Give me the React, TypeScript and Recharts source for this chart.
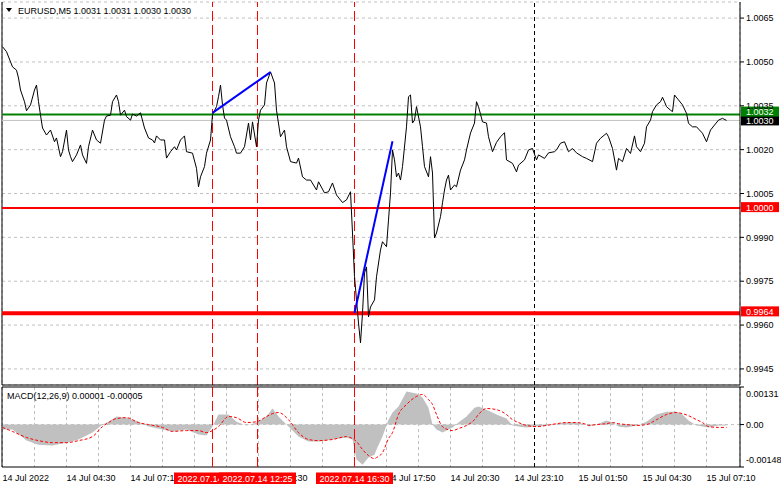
import React from 'react';
import {
  LineChart,
  Line,
  ComposedChart,
  Area,
  XAxis,
  YAxis,
  CartesianGrid,
  ReferenceLine,
} from 'recharts';

const FONT = "'Liberation Sans', Arial, sans-serif";

// M5 bar number (bar 0 = 14 Jul 01:50) and close price
const priceBars = [
  0, 2, 5, 7, 8, 9, 11, 12, 14, 16,
  17, 18, 19, 20, 22, 24, 26, 27, 29, 30,
  32, 33, 34, 35, 37, 39, 40, 42, 43, 45,
  47, 49, 51, 52, 54, 55, 57, 58, 59, 61,
  62, 64, 65, 67, 69, 71, 73, 75, 76, 77,
  79, 81, 82, 84, 86, 87, 89, 91, 92, 95,
  97, 98, 99, 101, 102, 104, 105, 107, 108, 109,
  110, 111, 112, 114, 116, 117, 119, 121, 123, 124,
  125, 127, 128, 129, 131, 132, 134, 136, 137, 139,
  141, 142, 144, 147, 148, 150, 152, 154, 157, 158,
  161, 163, 165, 167, 170, 172, 174, 175, 176, 177,
  178, 179, 180, 181, 182, 183, 184, 186, 187, 189,
  190, 192, 193, 194, 195, 196, 197, 198, 199, 200,
  202, 203, 204, 205, 206, 207, 209, 210, 211, 213,
  214, 215, 216, 217, 219, 220, 221, 222, 223, 224,
  226, 227, 229, 231, 232, 234, 236, 237, 238, 240,
  242, 243, 245, 247, 249, 251, 252, 255, 257, 258,
  261, 263, 265, 267, 268, 271, 273, 276, 277, 279,
  281, 283, 285, 287, 290, 292, 295, 297, 299, 302,
  303, 305, 307, 308, 310, 312, 314, 316, 317, 319,
  321, 322, 324, 325, 327, 329, 330, 331, 332, 334,
  335, 336, 338, 340, 342, 343, 345, 347, 350, 352,
  354, 356, 358, 360, 362,
];

const priceValues = [
  1.00552, 1.00535, 1.00483, 1.00472, 1.00445, 1.00404, 1.00364, 1.00333, 1.00353, 1.00404,
  1.00421, 1.00364, 1.00318, 1.00274, 1.0025, 1.00267, 1.00227, 1.0024, 1.00176, 1.00193,
  1.00267, 1.00199, 1.00176, 1.00159, 1.00182, 1.00216, 1.00182, 1.00153, 1.0021, 1.00267,
  1.00233, 1.00222, 1.00301, 1.00315, 1.00318, 1.00364, 1.00387, 1.00364, 1.00318, 1.00335,
  1.00313, 1.00301, 1.00322, 1.00315, 1.00326, 1.00274, 1.0024, 1.00233, 1.00223, 1.00247,
  1.00233, 1.00233, 1.00171, 1.00193, 1.0021, 1.00199, 1.00233, 1.00247, 1.00193, 1.00188,
  1.00136, 1.00073, 1.00107, 1.00142, 1.00188, 1.00233, 1.0032, 1.00347, 1.00381, 1.00421,
  1.00353, 1.00308, 1.00301, 1.00244, 1.0021, 1.00188, 1.00188, 1.0021, 1.00291, 1.00233,
  1.00295, 1.0021, 1.00301, 1.00335, 1.00353, 1.00428, 1.00466, 1.00428, 1.00335, 1.00244,
  1.00267, 1.0021, 1.00159, 1.00154, 1.00171, 1.00107, 1.00096, 1.00096, 1.00062, 1.0009,
  1.00052, 1.00056, 1.00086, 1.00045, 1.00019, 1.00028, 1.00056, 0.99915, 0.99766, 0.99686,
  0.99607, 0.99539, 0.99641, 0.99778, 0.99799, 0.99628, 0.99662, 0.99686, 0.99765, 0.99857,
  0.99885, 0.99868, 0.99959, 1.00052, 1.00199, 1.00165, 1.00107, 1.0012, 1.00096, 1.00142,
  1.00278, 1.00381, 1.00387, 1.00291, 1.00301, 1.00347, 1.00278, 1.0021, 1.00142, 1.00107,
  1.00176, 1.0012, 0.99898, 0.99915, 0.99971, 1.00018, 1.00062, 1.00096, 1.00113, 1.00062,
  1.00079, 1.00073, 1.0013, 1.00165, 1.00199, 1.00257, 1.00291, 1.00364, 1.00347, 1.00295,
  1.00291, 1.00244, 1.00193, 1.00225, 1.00244, 1.00258, 1.00165, 1.00153, 1.00124, 1.00147,
  1.00165, 1.00199, 1.00204, 1.00165, 1.00182, 1.0017, 1.00189, 1.00193, 1.00199, 1.00222,
  1.00227, 1.00193, 1.00204, 1.00189, 1.00176, 1.0017, 1.00159, 1.00222, 1.00239, 1.00256,
  1.00244, 1.00204, 1.0013, 1.0017, 1.00159, 1.00204, 1.00187, 1.00247, 1.0021, 1.00193,
  1.00222, 1.00278, 1.00301, 1.0033, 1.00353, 1.00364, 1.00379, 1.00364, 1.00347, 1.00335,
  1.0033, 1.00387, 1.0037, 1.00353, 1.00324, 1.0029, 1.00278, 1.00278, 1.00256, 1.00227,
  1.00267, 1.00284, 1.00301, 1.00307, 1.003,
];

// MACD(12,26,9): histogram (main) and dotted signal
const macdBars = [
  0, 5, 12, 18, 25, 32, 38, 45, 50, 53,
  57, 62, 68, 73, 80, 85, 92, 98, 102, 105,
  108, 113, 117, 122, 127, 132, 135, 138, 143, 148,
  153, 158, 165, 172, 175, 177, 180, 183, 186, 187,
  190, 193, 195, 198, 202, 207, 210, 213, 215, 217,
  220, 225, 228, 232, 236, 238, 242, 247, 252, 255,
  258, 262, 267, 272, 277, 282, 287, 292, 293, 297,
  302, 305, 308, 312, 317, 322, 327, 332, 337, 340,
  343, 347, 350, 353, 358, 362,
];

const macdHist = [
  -0.00017, -0.00017, -0.00056, -0.0007, -0.00073, -0.00063, -0.00052, -0.00028, 0, 0.0001,
  0.00028, 0.00024, 0.0001, -0.00007, -0.00017, -0.00024, -0.00017, -0.00035, -0.00038, -0.00007,
  0.00035, 0.00035, 0.0001, -0.00003, 0.00007, 0.00028, 0.00056, 0.00028, -0.00007, -0.00042,
  -0.00059, -0.00059, -0.00052, -0.00045, -0.00052, -0.00122, -0.0014, -0.00115, -0.00105, -0.00087,
  -0.00042, 0.00017, 0.00042, 0.00063, 0.00115, 0.00108, 0.00094, 0.00059, 0, -0.00017,
  -0.00028, -0.0001, 0.00007, 0.00028, 0.00059, 0.00063, 0.00052, 0.00035, 0.00021, -0.00003,
  -0.00007, -0.0001, -0.00007, -0.00003, 0.00003, 0.00007, 0.00007, 0, -0.00007, 0,
  0.00014, 0.00007, -0.00007, -0.0001, -0.00003, 0.0001, 0.00035, 0.00045, 0.00045, 0.00035,
  0.00014, -0.00003, -0.00007, -0.0001, -0.00003, -0.00003,
];

const macdSignal = [
  -0.0001, -0.00024, -0.00045, -0.00056, -0.00063, -0.00063, -0.00056, -0.00042, -0.00007, 0.00007,
  0.00021, 0.00024, 0.00007, 0, -0.0001, -0.00024, -0.00021, -0.00021, -0.00028, -0.00021,
  -0.00007, 0.00028, 0.00024, 0.00007, 0.0001, 0.00028, 0.00038, 0.00042, 0.00017, -0.00028,
  -0.00052, -0.00056, -0.00052, -0.00042, -0.00049, -0.00059, -0.00087, -0.00108, -0.00119, -0.00115,
  -0.00098, -0.00049, -0.00028, 0.00035, 0.0007, 0.00098, 0.00105, 0.00087, 0.0007, 0.00035,
  -0.00007, -0.00021, -0.00014, -0.00003, 0.00017, 0.00035, 0.00056, 0.00052, 0.00035, 0.00017,
  0.00007, -0.00003, -0.00007, -0.00003, 0.00003, 0.00007, 0.00007, 0, -0.00003, 0,
  0.00003, 0.00007, 0.00003, 0, -0.00003, 0, 0.00017, 0.00035, 0.00042, 0.00038,
  0.00031, 0.00017, 0.00007, -0.00007, -0.0001, -0.0001,
];

const priceTicks = [0.9945, 0.996, 0.9975, 0.999, 1.0005, 1.002, 1.0035, 1.005, 1.0065];
const macdTicks = [-0.00148, 0, 0.00131];
const gridBars = [0, 16, 32, 48, 64, 80, 96, 112, 128, 144, 160, 176, 192, 208, 224, 240, 256, 272, 288, 304, 320, 336, 352];
const timeBars = [0, 32, 64, 96, 128, 160, 192, 224, 256, 288, 320, 352];
const timeLabels = [
  '14 Jul 2022', '14 Jul 04:30', '14 Jul 07:10', '14 Jul 09:50', '14 Jul 12:30', '14 Jul 15:10',
  '14 Jul 17:50', '14 Jul 20:30', '14 Jul 23:10', '15 Jul 01:50', '15 Jul 04:30', '15 Jul 07:10',
];

// vertical event lines and their time flags
const eventBars = [105, 127.5, 176];
const eventLabels = ['2022.07.14 10:35', '2022.07.14 12:25', '2022.07.14 16:30'];
const cursorBar = 266;

// blue trend lines [bar, price] -> [bar, price]
const trendStarts = [[105, 1.00326], [176, 0.99641]];
const trendEnds = [[134, 1.00465], [195, 1.00229]];

const priceData = priceBars.map((b, i) => ({ bar: b, price: priceValues[i] }));
const macdData = macdBars.map((b, i) => ({ bar: b, hist: macdHist[i], signal: macdSignal[i] }));

// quarter-bar offset keeps 1px vertical lines on pixel centres
const X_DOMAIN = [-0.25, 368.75];
const MACD_DOMAIN = [-0.00148, 0.00131];

function PriceFlag(props: any) {
  const { viewBox, text, bg, shift = 0 } = props;
  const x = viewBox.x + viewBox.width + 1;
  const y = viewBox.y + shift;
  return (
    <g>
      <rect x={x} y={y - 5} width={38} height={10} fill={bg} />
      <text x={x + 5} y={y + 3.4} fill="#fff" fontSize={9} fontFamily={FONT}>
        {text}
      </text>
    </g>
  );
}

function TimeFlag(props: any) {
  const { viewBox, text } = props;
  const yb = viewBox.y + viewBox.height;
  return (
    <g>
      <rect x={viewBox.x - 38.5} y={yb + 5.5} width={77} height={11.5} fill="#ff0000" />
      <text x={viewBox.x} y={yb + 14.5} fill="#fff" fontSize={9} fontFamily={FONT} textAnchor="middle">
        {text}
      </text>
    </g>
  );
}

function TimeTick(props: any) {
  const { x, y, payload } = props;
  const idx = timeBars.indexOf(payload.value);
  if (idx < 0) return null;
  return (
    <text x={x} y={y + 14} fill="#000" fontSize={9} fontFamily={FONT} textAnchor="start">
      {timeLabels[idx]}
    </text>
  );
}

function MacdTick(props: any) {
  const { x, y, payload } = props;
  const v = payload.value;
  const shift = v > 0 ? 7 : v < 0 ? -7 : 0;
  return (
    <text x={x} y={y + shift} dy="0.355em" fill="#000" fontSize={9} fontFamily={FONT} textAnchor="start">
      {v === 0 ? '0.00' : v.toFixed(5)}
    </text>
  );
}

export default function App() {
  return (
    <div
      style={{
        position: 'fixed',
        left: 0,
        top: 0,
        width: 781,
        height: 489,
        background: '#fff',
        fontFamily: FONT,
        overflow: 'hidden',
      }}
    >
      <div style={{ position: 'absolute', left: 0, top: 0 }}>
        <LineChart width={781} height={386} data={priceData} margin={{ top: 2, right: 0, bottom: 0, left: 2 }}>
          <CartesianGrid stroke="#c0c0c0" strokeDasharray="3 3" />
          <XAxis
            dataKey="bar"
            type="number"
            domain={X_DOMAIN}
            allowDataOverflow
            ticks={gridBars.slice(1)}
            interval={0}
            tick={false}
            tickLine={false}
            height={1}
            axisLine={{ stroke: '#000' }}
          />
          <YAxis
            orientation="right"
            width={41}
            type="number"
            domain={[0.99395, 1.00705]}
            allowDataOverflow
            ticks={priceTicks}
            interval={0}
            tickFormatter={(v: number) => v.toFixed(4)}
            tick={{ fontSize: 9, fill: '#000', fontFamily: FONT }}
            tickSize={4}
            tickMargin={2}
            axisLine={{ stroke: '#000' }}
            tickLine={{ stroke: '#000' }}
          />
          <ReferenceLine x={X_DOMAIN[0]} stroke="#000" />
          {eventBars.map((b) => (
            <ReferenceLine key={b} x={b} stroke="#ff0000" strokeDasharray="10 4" />
          ))}
          <ReferenceLine x={cursorBar} stroke="#000" strokeDasharray="4 3" />
          <ReferenceLine y={1.003} stroke="#c0c0c0" label={<PriceFlag text="1.0030" bg="#000" />} />
          <ReferenceLine y={1.0032} stroke="#008000" strokeWidth={2} label={<PriceFlag text="1.0032" bg="#008000" shift={-3} />} />
          <ReferenceLine y={1.0} stroke="#ff0000" strokeWidth={2} label={<PriceFlag text="1.0000" bg="#ff0000" shift={-1} />} />
          <ReferenceLine y={0.9964} stroke="#ff0000" strokeWidth={4} label={<PriceFlag text="0.9964" bg="#ff0000" shift={-2} />} />
          <Line
            dataKey="price"
            type="linear"
            stroke="#000"
            strokeWidth={1}
            dot={false}
            isAnimationActive={false}
          />
          {trendStarts.map((s, i) => (
            <ReferenceLine
              key={i}
              segment={[
                { x: s[0], y: s[1] },
                { x: trendEnds[i][0], y: trendEnds[i][1] },
              ]}
              stroke="#0000ff"
              strokeWidth={2}
            />
          ))}
        </LineChart>
      </div>

      <div style={{ position: 'absolute', left: 0, top: 386 }}>
        <ComposedChart width={781} height={103} data={macdData} margin={{ top: 1, right: 0, bottom: 0, left: 2 }}>
          <CartesianGrid stroke="#c0c0c0" strokeDasharray="3 3" horizontal={false} />
          <XAxis
            dataKey="bar"
            type="number"
            domain={X_DOMAIN}
            allowDataOverflow
            ticks={gridBars}
            interval={0}
            tick={<TimeTick />}
            tickLine={false}
            tickSize={0}
            tickMargin={0}
            height={22}
            axisLine={{ stroke: '#000' }}
          />
          <YAxis
            orientation="right"
            width={41}
            type="number"
            domain={MACD_DOMAIN}
            allowDataOverflow
            ticks={macdTicks}
            interval={0}
            tick={<MacdTick />}
            tickSize={4}
            tickMargin={2}
            axisLine={{ stroke: '#000' }}
            tickLine={{ stroke: '#000' }}
          />
          <ReferenceLine x={X_DOMAIN[0]} stroke="#000" />
          <ReferenceLine y={0.00131} stroke="#000" />
          <ReferenceLine y={0} stroke="#c0c0c0" strokeDasharray="3 3" />
          <Area
            dataKey="hist"
            type="linear"
            baseValue={0}
            fill="#c0c0c0"
            fillOpacity={1}
            stroke="none"
            isAnimationActive={false}
          />
          <Line
            dataKey="signal"
            type="monotone"
            stroke="#ff0000"
            strokeDasharray="3 2"
            strokeWidth={1}
            dot={false}
            isAnimationActive={false}
          />
          <ReferenceLine x={cursorBar} stroke="#000" strokeDasharray="4 3" />
        </ComposedChart>
      </div>

      {/* event lines + time flags drawn above the time axis labels */}
      <div style={{ position: 'absolute', left: 0, top: 386 }}>
        <ComposedChart width={781} height={103} data={macdData} margin={{ top: 1, right: 41, bottom: 22, left: 2 }}>
          <XAxis dataKey="bar" type="number" domain={X_DOMAIN} allowDataOverflow hide />
          <YAxis type="number" domain={MACD_DOMAIN} allowDataOverflow hide />
          {eventBars.map((b, i) => (
            <ReferenceLine
              key={b}
              x={b}
              stroke="#ff0000"
              strokeDasharray="10 4"
              label={<TimeFlag text={eventLabels[i]} />}
            />
          ))}
        </ComposedChart>
      </div>

      <svg width={781} height={20} style={{ position: 'absolute', left: 0, top: 0 }}>
        <polygon points="6,8 12,8 9,12" fill="#000" />
        <text x={18} y={13.5} fontSize={9} fontFamily={FONT} fill="#000">
          {'EURUSD,M5  1.0031 1.0031 1.0030 1.0030'}
        </text>
      </svg>
      <svg width={200} height={14} style={{ position: 'absolute', left: 0, top: 388 }}>
        <text x={7} y={10.5} fontSize={9} fontFamily={FONT} fill="#000">
          MACD(12,26,9) 0.00001 -0.00005
        </text>
      </svg>
    </div>
  );
}
